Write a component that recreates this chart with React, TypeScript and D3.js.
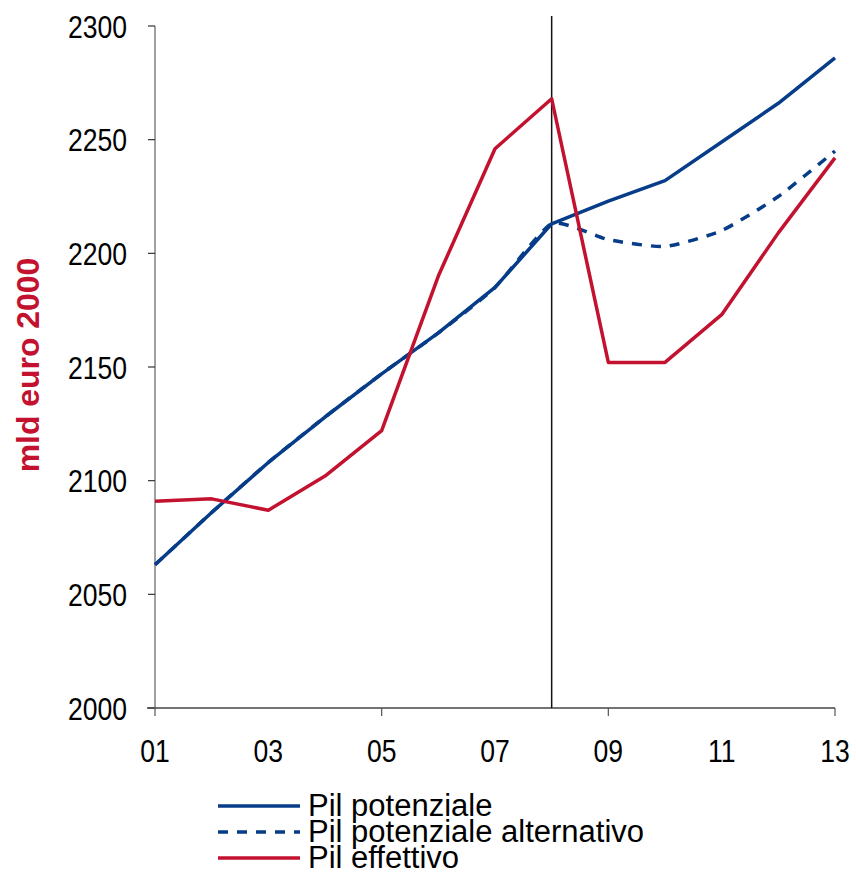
import React from "react";
import * as d3 from "d3";

const years = [1, 2, 3, 4, 5, 6, 7, 8, 9, 10, 11, 12, 13];
const pilPotenziale = [2063, 2086, 2108, 2128, 2147, 2165, 2185, 2213, 2223, 2232, 2249, 2266, 2286];
const pilAlternativo = [2063, 2086, 2108, 2128, 2147, 2165, 2185, 2213, 2206, 2203, 2210, 2225, 2245];
const pilEffettivo = [2091, 2092, 2087, 2102, 2122, 2190, 2246, 2268, 2152, 2152, 2173, 2209, 2242];
const yTicks = [2000, 2050, 2100, 2150, 2200, 2250, 2300];
const xLabelYears = [1, 3, 5, 7, 9, 11, 13];
const xTickYears = [1, 5, 9, 13];
const markerYear = 8;

const BLUE = "#063c88";
const RED = "#c3122f";

const App: React.FC = () => {
  const width = 856;
  const height = 877;
  const margin = { top: 26, right: 21, bottom: 169, left: 155 };

  const x = d3
    .scaleLinear()
    .domain([1, 13])
    .range([margin.left, width - margin.right]);
  const y = d3
    .scaleLinear()
    .domain([2000, 2300])
    .range([height - margin.bottom, margin.top]);

  const straight = d3
    .line<number>()
    .x((_, i) => x(years[i]))
    .y((d) => y(d));
  const smooth = d3
    .line<number>()
    .x((_, i) => x(years[i]))
    .y((d) => y(d))
    .curve(d3.curveCardinal.tension(0.45));

  const font = "'Liberation Sans', Arial, sans-serif";
  // i caratteri del riferimento sono alti e stretti
  const squeeze = 0.83;
  const legend = [
    { label: "Pil potenziale", color: BLUE, dash: undefined },
    { label: "Pil potenziale alternativo", color: BLUE, dash: "10,9" },
    { label: "Pil effettivo", color: RED, dash: undefined },
  ];

  return (
    <svg
      width={width}
      height={height}
      style={{ position: "absolute", left: 0, top: 0, background: "#fff" }}
    >
      {/* Asse Y */}
      <line x1={x(1)} x2={x(1)} y1={y(2300)} y2={y(2000)} stroke="#808080" strokeWidth={1.5} />
      {yTicks.map((t) => (
        <g key={t}>
          <line x1={x(1) - 7} x2={x(1)} y1={y(t)} y2={y(t)} stroke="#333" strokeWidth={1.2} />
          <text
            transform={`translate(${x(1) - 28}, ${y(t)}) scale(${squeeze}, 1)`}
            dy="0.36em"
            textAnchor="end"
            fontFamily={font}
            fontSize={32}
            fill="#000"
          >
            {t}
          </text>
        </g>
      ))}
      <text
        transform={`translate(39, 365) rotate(-90) scale(1.03, 1)`}
        textAnchor="middle"
        fontFamily={font}
        fontWeight="bold"
        fontSize={31}
        fill={RED}
      >
        mld euro 2000
      </text>

      {/* Asse X */}
      <line x1={x(1) - 8} x2={x(13)} y1={y(2000)} y2={y(2000)} stroke="#444" strokeWidth={1.5} />
      {xTickYears.map((t) => (
        <line key={t} x1={x(t)} x2={x(t)} y1={y(2000)} y2={y(2000) + 8} stroke="#555" strokeWidth={1.2} />
      ))}
      {xLabelYears.map((t) => (
        <text
          key={t}
          transform={`translate(${x(t)}, 762) scale(${squeeze}, 1)`}
          textAnchor="middle"
          fontFamily={font}
          fontSize={32}
          fill="#000"
        >
          {String(t).padStart(2, "0")}
        </text>
      ))}

      {/* Linea verticale */}
      <line
        x1={x(markerYear)}
        x2={x(markerYear)}
        y1={16}
        y2={y(2000)}
        stroke="#111"
        strokeWidth={1.5}
      />

      {/* Serie */}
      <path d={straight(pilPotenziale) ?? ""} fill="none" stroke={BLUE} strokeWidth={3.5} strokeLinejoin="round" />
      <path
        d={smooth(pilAlternativo) ?? ""}
        fill="none"
        stroke={BLUE}
        strokeWidth={3.5}
        strokeDasharray="10,9"
      />
      <path d={straight(pilEffettivo) ?? ""} fill="none" stroke={RED} strokeWidth={3.5} strokeLinejoin="round" />

      {/* Legenda */}
      {legend.map((l, i) => (
        <g key={l.label} transform={`translate(218, ${806 + i * 26})`}>
          <line x1={0} x2={82} y1={0} y2={0} stroke={l.color} strokeWidth={3.5} strokeDasharray={l.dash} />
          <text x={90} y={10} fontFamily={font} fontSize={31} fill="#000">
            {l.label}
          </text>
        </g>
      ))}
    </svg>
  );
};

export default App;
